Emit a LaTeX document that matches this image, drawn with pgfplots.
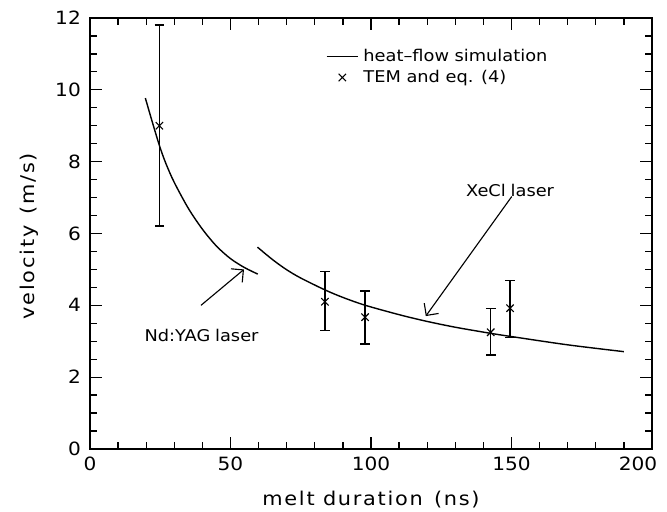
\documentclass[border=0pt]{standalone}
\usepackage{fontspec}
\setmainfont{DejaVu Sans}[FakeStretch=1.1]
\usepackage{pgfplots}
\pgfplotsset{compat=1.18}
\usetikzlibrary{arrows.meta}

\pgfplotsset{
    lineleg/.style={legend image code/.code={\draw[##1] (0cm,0cm) -- (0.78cm,0cm);}},
    markleg/.style={legend image code/.code={\draw[mark repeat=2,mark phase=2,##1]
        plot coordinates {(0cm,0cm) (0.39cm,0cm) (0.78cm,0cm)};}},
}

\begin{document}
\begin{tikzpicture}
\begin{axis}[
    scale only axis,
    width=14.05cm, height=10.775cm,
    xmin=0, xmax=200, ymin=0, ymax=12,
    xtick={0,50,...,200}, ytick={0,2,...,12},
    xticklabels={0,50,100,150,{200\hspace*{0.7cm}}},
    minor x tick num=4, minor y tick num=3,
    tick align=inside,
    major tick length=0.3cm, minor tick length=0.17cm,
    every tick/.style={line width=0.9pt, black},
    axis line style={line width=1.5pt},
    font=\fontsize{11.5}{14}\selectfont,
    tick label style={font=\fontsize{13}{15}\selectfont},
    /pgf/number format/assume math mode=true,
    xticklabel style={yshift=-2pt},
    yticklabel style={xshift=-3pt},
    xlabel={melt duration\hspace{0.15em} (ns)},
    ylabel={velocity\hspace{0.15em} (m/s)},
    label style={font=\fontsize{13.5}{15}\selectfont\addfontfeature{LetterSpace=9}},
    xlabel style={at={(axis description cs:0.5,-0.118)}, anchor=center},
    ylabel style={at={(axis description cs:-0.1076,0.494)}, anchor=center},
    legend style={draw=none, fill=none, at={(axis cs:83.9,11.14)}, anchor=north west,
        inner sep=0pt, row sep=4.8pt, column sep=0.12cm,
        nodes={inner sep=0pt, anchor=west}},
    legend cell align=left,
]
% Nd:YAG heat-flow simulation
\addplot[line width=1pt, smooth, lineleg]
    coordinates {(19.7,9.77) (22,9.15) (24.7,8.45) (27,7.95) (30,7.42) (35,6.70)
                 (40,6.12) (45,5.65) (50,5.30) (55,5.05) (59.7,4.87)};
\addlegendentry{heat--flow simulation}
% XeCl heat-flow simulation
\addplot[line width=1pt, smooth, forget plot]
    coordinates {(59.6,5.62) (65,5.27) (70,4.99) (75,4.76) (83.6,4.43) (90,4.22)
                 (98,4.00) (110,3.74) (119.5,3.56) (130,3.39) (142.6,3.22)
                 (150,3.13) (170,2.90) (190,2.71)};
% TEM measurements
\addplot[only marks, mark=x, mark size=0.13cm, line width=0.8pt, markleg,
    error bars/.cd, y dir=both, y explicit,
    error bar style={line width=1.1pt},
    error mark options={line width=1.1pt, mark size=0.12cm, rotate=90}]
    table[x=x, y=y, y error plus=ep, y error minus=em] {
x     y     ep    em
24.7  9.00  2.81  2.79
83.6  4.10  0.84  0.80
97.9  3.67  0.73  0.75
142.6 3.25  0.66  0.64
149.5 3.92  0.77  0.81
};
\addlegendentry{TEM and eq. (4)}

\draw[line width=0.8pt, -{Straight Barb[length=2.2mm, width=4.4mm]}]
    (axis cs:39.5,4.0) -- (axis cs:54.8,5.0);
\draw[line width=0.8pt, -{Straight Barb[length=2.2mm, width=4.4mm]}]
    (axis cs:150.1,7.03) -- (axis cs:119.5,3.70);
\node at (axis cs:39.7,3.15) {Nd:YAG\hspace{0.3em}laser};
\node at (axis cs:149.5,7.21) {XeCl\hspace{0.3em}laser};
\end{axis}
\pgfresetboundingbox
\path[use as bounding box] (-2.25cm,-1.575cm) rectangle (14.425cm,11.225cm);
\end{tikzpicture}
\end{document}
